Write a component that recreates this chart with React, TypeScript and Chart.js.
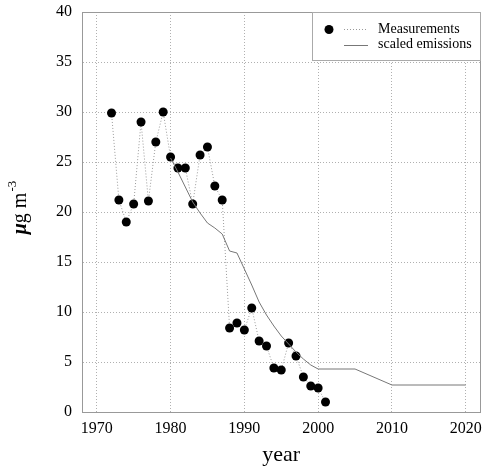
import { useEffect, useRef } from "react";
import { Chart, registerables } from "chart.js";

Chart.register(...registerables);

const measYears = [1972, 1973, 1974, 1975, 1976, 1977, 1978, 1979, 1980, 1981, 1982, 1983, 1984, 1985, 1986, 1987, 1988, 1989, 1990, 1991, 1992, 1993, 1994, 1995, 1996, 1997, 1998, 1999, 2000, 2001];
const measValues = [29.9, 21.2, 19.0, 20.8, 29.0, 21.1, 27.0, 30.0, 25.5, 24.4, 24.4, 20.8, 25.7, 26.5, 22.6, 21.2, 8.4, 8.9, 8.2, 10.4, 7.1, 6.6, 4.4, 4.2, 6.9, 5.6, 3.5, 2.6, 2.4, 1.0];

const emisYears = [1980, 1981, 1982, 1983, 1984, 1985, 1986, 1987, 1988, 1989, 1990, 1991, 1992, 1993, 1994, 1995, 1996, 1997, 1998, 1999, 2000, 2005, 2010, 2020];
const emisValues = [25.4, 24.0, 22.5, 21.0, 19.9, 18.9, 18.4, 17.8, 16.1, 15.9, 14.3, 12.7, 11.0, 9.7, 8.6, 7.6, 6.8, 6.0, 5.3, 4.7, 4.3, 4.3, 2.7, 2.7];

const xTicks = [1970, 1980, 1990, 2000, 2010, 2020];
const legendLabels = ["Measurements", "scaled emissions"];
const xTitle = "year";
const yTitleParts = ["\u03bc", "g m", "-3"];

const SERIF = "'Liberation Serif', 'DejaVu Serif', serif";

const zeroPad = (s: any) => {
  s.paddingTop = 0;
  s.paddingBottom = 0;
  s.paddingLeft = 0;
  s.paddingRight = 0;
};

const overlayPlugin = {
  id: "overlay",
  afterDatasetsDraw(chart: any) {
    const ctx = chart.ctx as CanvasRenderingContext2D;
    const { left, right, top, bottom } = chart.chartArea;
    ctx.save();
    ctx.strokeStyle = "#999";
    ctx.lineWidth = 1;
    ctx.beginPath();
    ctx.moveTo(Math.round(left) + 0.5, Math.round(top) + 0.5);
    ctx.lineTo(Math.round(right) - 0.5, Math.round(top) + 0.5);
    ctx.lineTo(Math.round(right) - 0.5, Math.round(bottom) + 0.5);
    ctx.stroke();
    ctx.restore();
  },
  afterDraw(chart: any) {
    const ctx = chart.ctx as CanvasRenderingContext2D;
    // Y axis title with superscript
    ctx.save();
    ctx.translate(26, 207.5);
    ctx.rotate(-Math.PI / 2);
    ctx.fillStyle = "#000";
    ctx.textBaseline = "alphabetic";
    const fMu = `italic bold 20px ${SERIF}`;
    const fMain = `20px ${SERIF}`;
    const fSup = `13px ${SERIF}`;
    ctx.font = fMu;
    const wMu = ctx.measureText(yTitleParts[0]).width;
    ctx.font = fMain;
    const wMain = ctx.measureText(yTitleParts[1]).width;
    ctx.font = fSup;
    const wSup = ctx.measureText(yTitleParts[2]).width;
    let x = -(wMu + wMain + wSup + 1) / 2;
    ctx.font = fMu;
    ctx.fillText(yTitleParts[0], x, 0);
    x += wMu;
    ctx.font = fMain;
    ctx.fillText(yTitleParts[1], x, 0);
    x += wMain + 1;
    ctx.font = fSup;
    ctx.fillText(yTitleParts[2], x, -10);
    ctx.restore();

    // Legend
    ctx.save();
    ctx.fillStyle = "#fff";
    ctx.strokeStyle = "#aaa";
    ctx.lineWidth = 1;
    ctx.fillRect(312.5, 12.5, 168, 48);
    ctx.strokeRect(312.5, 12.5, 168, 48);
    ctx.fillStyle = "#000";
    ctx.beginPath();
    ctx.arc(329, 29.5, 4.5, 0, Math.PI * 2);
    ctx.fill();
    ctx.strokeStyle = "#999";
    ctx.setLineDash([1, 2]);
    ctx.beginPath();
    ctx.moveTo(344, 29.5);
    ctx.lineTo(368, 29.5);
    ctx.stroke();
    ctx.setLineDash([]);
    ctx.strokeStyle = "#777";
    ctx.beginPath();
    ctx.moveTo(344, 45.5);
    ctx.lineTo(368, 45.5);
    ctx.stroke();
    ctx.fillStyle = "#000";
    ctx.font = `14px ${SERIF}`;
    ctx.textBaseline = "middle";
    ctx.textAlign = "left";
    ctx.fillText(legendLabels[0], 378, 29);
    ctx.fillText(legendLabels[1], 378, 44);
    ctx.restore();
  },
};

export default function App() {
  const canvasRef = useRef<HTMLCanvasElement>(null);

  useEffect(() => {
    if (!canvasRef.current) return;
    Chart.defaults.font.family = SERIF;
    const chart = new Chart(canvasRef.current, {
      type: "scatter",
      data: {
        datasets: [
          {
            label: legendLabels[1],
            data: emisYears.map((x, i) => ({ x, y: emisValues[i] })),
            showLine: true,
            borderColor: "#777",
            borderWidth: 1,
            pointRadius: 0,
            fill: false,
          },
          {
            label: legendLabels[0],
            data: measYears.map((x, i) => ({ x, y: measValues[i] })),
            showLine: true,
            borderColor: "#999",
            borderWidth: 1,
            borderDash: [1, 2],
            pointRadius: 4.5,
            pointBackgroundColor: "#000",
            pointBorderColor: "#000",
            pointBorderWidth: 0,
            fill: false,
          },
        ],
      },
      options: {
        animation: false,
        responsive: false,
        layout: { padding: { top: 12, right: 3, left: 0, bottom: 0 } },
        plugins: {
          legend: { display: false },
          tooltip: { enabled: false },
        },
        scales: {
          x: {
            type: "linear",
            min: 1968,
            max: 2022,
            afterBuildTicks: (s: any) => {
              s.ticks = xTicks.map((v) => ({ value: v }));
            },
            afterFit: (s: any) => {
              s.height = 60;
              zeroPad(s);
            },
            ticks: {
              color: "#000",
              font: { size: 16, family: SERIF },
              padding: 7,
              maxRotation: 0,
              callback: (v: any) => String(v),
            },
            grid: { color: "#b0b0b0", drawTicks: false, lineWidth: 1 },
            border: { display: true, color: "#999", width: 1, dash: [1, 2] },
            title: {
              display: true,
              text: xTitle,
              color: "#000",
              font: { size: 22, family: SERIF },
              padding: { top: 0, bottom: 4 },
            },
          },
          y: {
            type: "linear",
            min: 0,
            max: 40,
            afterFit: (s: any) => {
              s.width = 82;
              zeroPad(s);
            },
            ticks: {
              stepSize: 5,
              color: "#000",
              font: { size: 16, family: SERIF },
              padding: 10,
            },
            grid: { color: "#b0b0b0", drawTicks: false, lineWidth: 1 },
            border: { display: true, color: "#999", width: 1, dash: [1, 2] },
            title: { display: false },
          },
        },
      },
      plugins: [overlayPlugin],
    });
    return () => chart.destroy();
  }, []);

  return (
    <div style={{ position: "absolute", left: 0, top: 0, width: 485, height: 472, background: "#fff" }}>
      <canvas ref={canvasRef} width={485} height={472} />
    </div>
  );
}
